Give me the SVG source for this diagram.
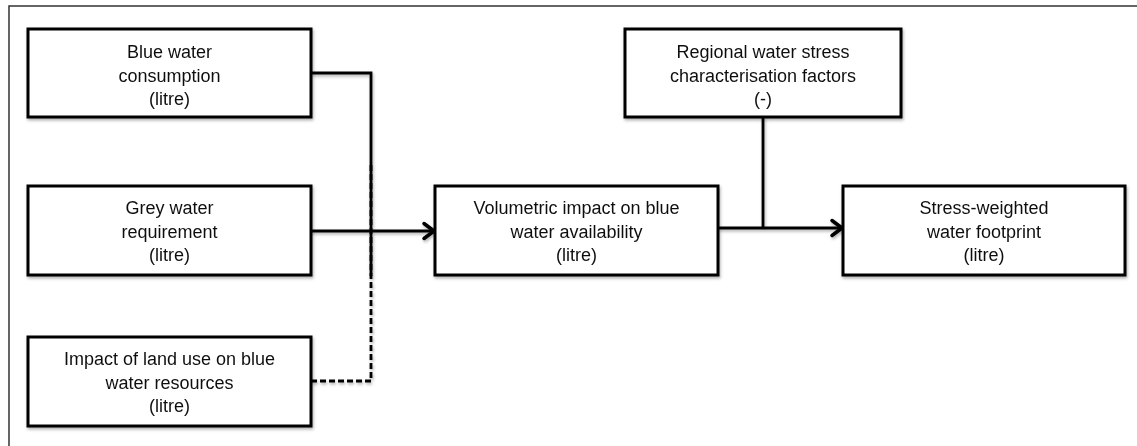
<svg xmlns="http://www.w3.org/2000/svg" width="1137" height="446" viewBox="0 0 1137 446">
  <style>
    .box { fill: #ffffff; stroke: #000000; stroke-width: 3; }
    .lbl { font-family: "Liberation Sans", Arial, sans-serif; font-size: 18px; fill: #111111; text-anchor: middle; }
    .con { fill: none; stroke: #000000; stroke-width: 2.8; }
    .dash { stroke-dasharray: 6 3; }
  </style>
  <defs>
    <filter id="sh" x="-10%" y="-10%" width="130%" height="140%">
      <feDropShadow dx="1" dy="2" stdDeviation="1.5" flood-color="#000000" flood-opacity="0.3"/>
    </filter>
    <marker id="arr" markerUnits="userSpaceOnUse" markerWidth="18" markerHeight="20" refX="15" refY="10" orient="auto">
      <path d="M4,2.5 L14,10 L4,17.5" fill="none" stroke="#000000" stroke-width="3.5" stroke-linecap="round" stroke-linejoin="round"/>
    </marker>
  </defs>

  <rect width="1137" height="446" fill="#ffffff"/>
  <path d="M9,446 V6 H1137" fill="none" stroke="#333333" stroke-width="1.5"/>

  <g id="connectors" filter="url(#sh)">
    <polyline class="con" points="311,73 371,73 371,276"/>
    <polyline class="con dash" points="311,381 371,381 371,162"/>
    <line class="con" x1="311" y1="231" x2="435" y2="231" marker-end="url(#arr)"/>
    <line class="con" x1="718" y1="228" x2="843" y2="228" marker-end="url(#arr)"/>
    <line class="con" x1="763" y1="117" x2="763" y2="228"/>
  </g>

  <g id="blue-water" filter="url(#sh)">
    <rect class="box" x="28" y="29" width="283" height="88"/>
    <text class="lbl" x="169.5" y="58">Blue water</text>
    <text class="lbl" x="169.5" y="81.5">consumption</text>
    <text class="lbl" x="169.5" y="105">(litre)</text>
  </g>

  <g id="grey-water" filter="url(#sh)">
    <rect class="box" x="28" y="186" width="283" height="89"/>
    <text class="lbl" x="169.5" y="214">Grey water</text>
    <text class="lbl" x="169.5" y="237.5">requirement</text>
    <text class="lbl" x="169.5" y="261">(litre)</text>
  </g>

  <g id="land-use" filter="url(#sh)">
    <rect class="box" x="28" y="337" width="283" height="89"/>
    <text class="lbl" x="169.5" y="365">Impact of land use on blue</text>
    <text class="lbl" x="169.5" y="388.5">water resources</text>
    <text class="lbl" x="169.5" y="412">(litre)</text>
  </g>

  <g id="volumetric" filter="url(#sh)">
    <rect class="box" x="435" y="186" width="283" height="89"/>
    <text class="lbl" x="576.5" y="214">Volumetric impact on blue</text>
    <text class="lbl" x="576.5" y="237.5">water availability</text>
    <text class="lbl" x="576.5" y="261">(litre)</text>
  </g>

  <g id="regional" filter="url(#sh)">
    <rect class="box" x="625" y="29" width="276" height="88"/>
    <text class="lbl" x="763" y="58">Regional water stress</text>
    <text class="lbl" x="763" y="81.5">characterisation factors</text>
    <text class="lbl" x="763" y="105">(-)</text>
  </g>

  <g id="stress-weighted" filter="url(#sh)">
    <rect class="box" x="843" y="186" width="282" height="89"/>
    <text class="lbl" x="984" y="214">Stress-weighted</text>
    <text class="lbl" x="984" y="237.5">water footprint</text>
    <text class="lbl" x="984" y="261">(litre)</text>
  </g>
</svg>
